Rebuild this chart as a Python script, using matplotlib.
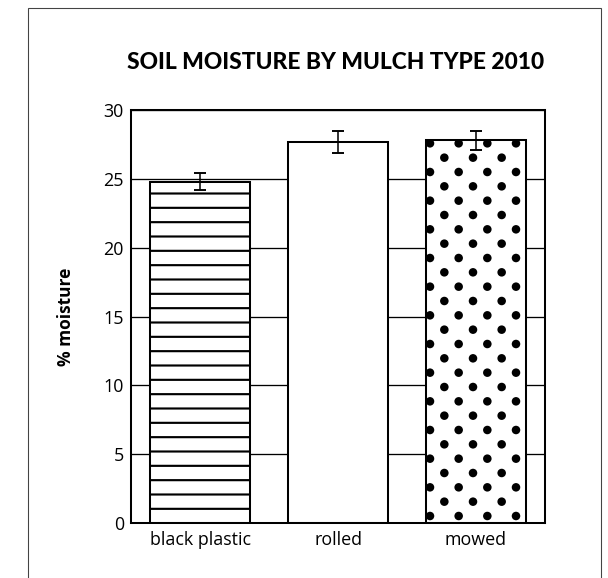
import matplotlib
matplotlib.use("Agg")
import matplotlib.pyplot as plt
import numpy as np
from matplotlib import hatch as mhatch
from matplotlib.path import Path
from matplotlib.patches import Rectangle

categories = ["black plastic", "rolled", "mowed"]
moisture = [24.8, 27.7, 27.8]
moisture_err = [0.6, 0.8, 0.7]
bar_hatches = ["-", "", "."]
y_ticks = [0, 5, 10, 15, 20, 25, 30]

DPI = 86


class DotLattice(mhatch.HatchPatternBase):
    # staggered filled dots: 3 per row, 6 rows per hatch tile
    radius = 0.037

    def __init__(self, hatch, density):
        circle = Path.unit_circle()
        self.shape_vertices = circle.vertices * self.radius
        self.shape_codes = circle.codes
        pts = []
        if hatch.count("."):
            for row in range(7):
                y = row / 6
                if row % 2 == 0:
                    cols = np.linspace(0, 1, 4)
                else:
                    cols = np.linspace(1 / 6, 5 / 6, 3)
                pts += [(x, y) for x in cols]
        self.centers = np.array(pts).reshape(-1, 2)
        self.num_vertices = len(self.centers) * len(self.shape_vertices)

    def set_vertices_and_codes(self, vertices, codes):
        nv = len(self.shape_vertices)
        for i, c in enumerate(self.centers):
            vertices[i * nv:(i + 1) * nv] = self.shape_vertices + c
            codes[i * nv:(i + 1) * nv] = self.shape_codes


mhatch._hatch_types = [
    DotLattice if t is mhatch.SmallFilledCircles else t for t in mhatch._hatch_types
]

plt.rcParams["hatch.linewidth"] = 1.8
plt.rcParams["hatch.color"] = "black"
plt.rcParams["font.family"] = ["Open Sans", "DejaVu Sans"]

fig = plt.figure(figsize=(608 / DPI, 578 / DPI), dpi=DPI)
ax = fig.add_axes([131 / 608, 55 / 578, 414 / 608, 413 / 578])

x = np.arange(len(categories))
ax.set_axisbelow(True)
ax.yaxis.grid(True, color="black", linewidth=1.1)
bars = ax.bar(x, moisture, width=0.72, color="white", edgecolor="black",
              linewidth=1.7, zorder=2)
for bar, h in zip(bars, bar_hatches):
    bar.set_hatch(h)
ax.errorbar(x, moisture, yerr=moisture_err, fmt="none", ecolor="black",
            elinewidth=1.3, capsize=5, capthick=1.6, zorder=3)

ax.set_xlim(-0.5, 2.5)
ax.set_ylim(0, 30)
ax.set_yticks(y_ticks)
ax.set_xticks(x)
ax.set_xticklabels(categories)
ax.tick_params(axis="both", length=0, labelsize=15, colors="black")
ax.tick_params(axis="y", pad=6)
ax.tick_params(axis="x", pad=7)
for s in ax.spines.values():
    s.set_linewidth(1.7)
    s.set_color("black")

ax.set_ylabel("% moisture", fontsize=14.5, fontweight="bold")
ax.yaxis.set_label_coords(-0.135, 0.5)

ax.text(0.493, 1.116, "SOIL MOISTURE BY MULCH TYPE 2010", transform=ax.transAxes,
        ha="center", va="center", fontsize=19, fontweight="black", family="Lato")

fig.add_artist(Rectangle((28 / 608, -0.05), 573 / 608, 1.05 - 8 / 578,
                         transform=fig.transFigure, fill=False,
                         edgecolor="#444444", linewidth=0.9))

fig.savefig("out.png", dpi=DPI)
